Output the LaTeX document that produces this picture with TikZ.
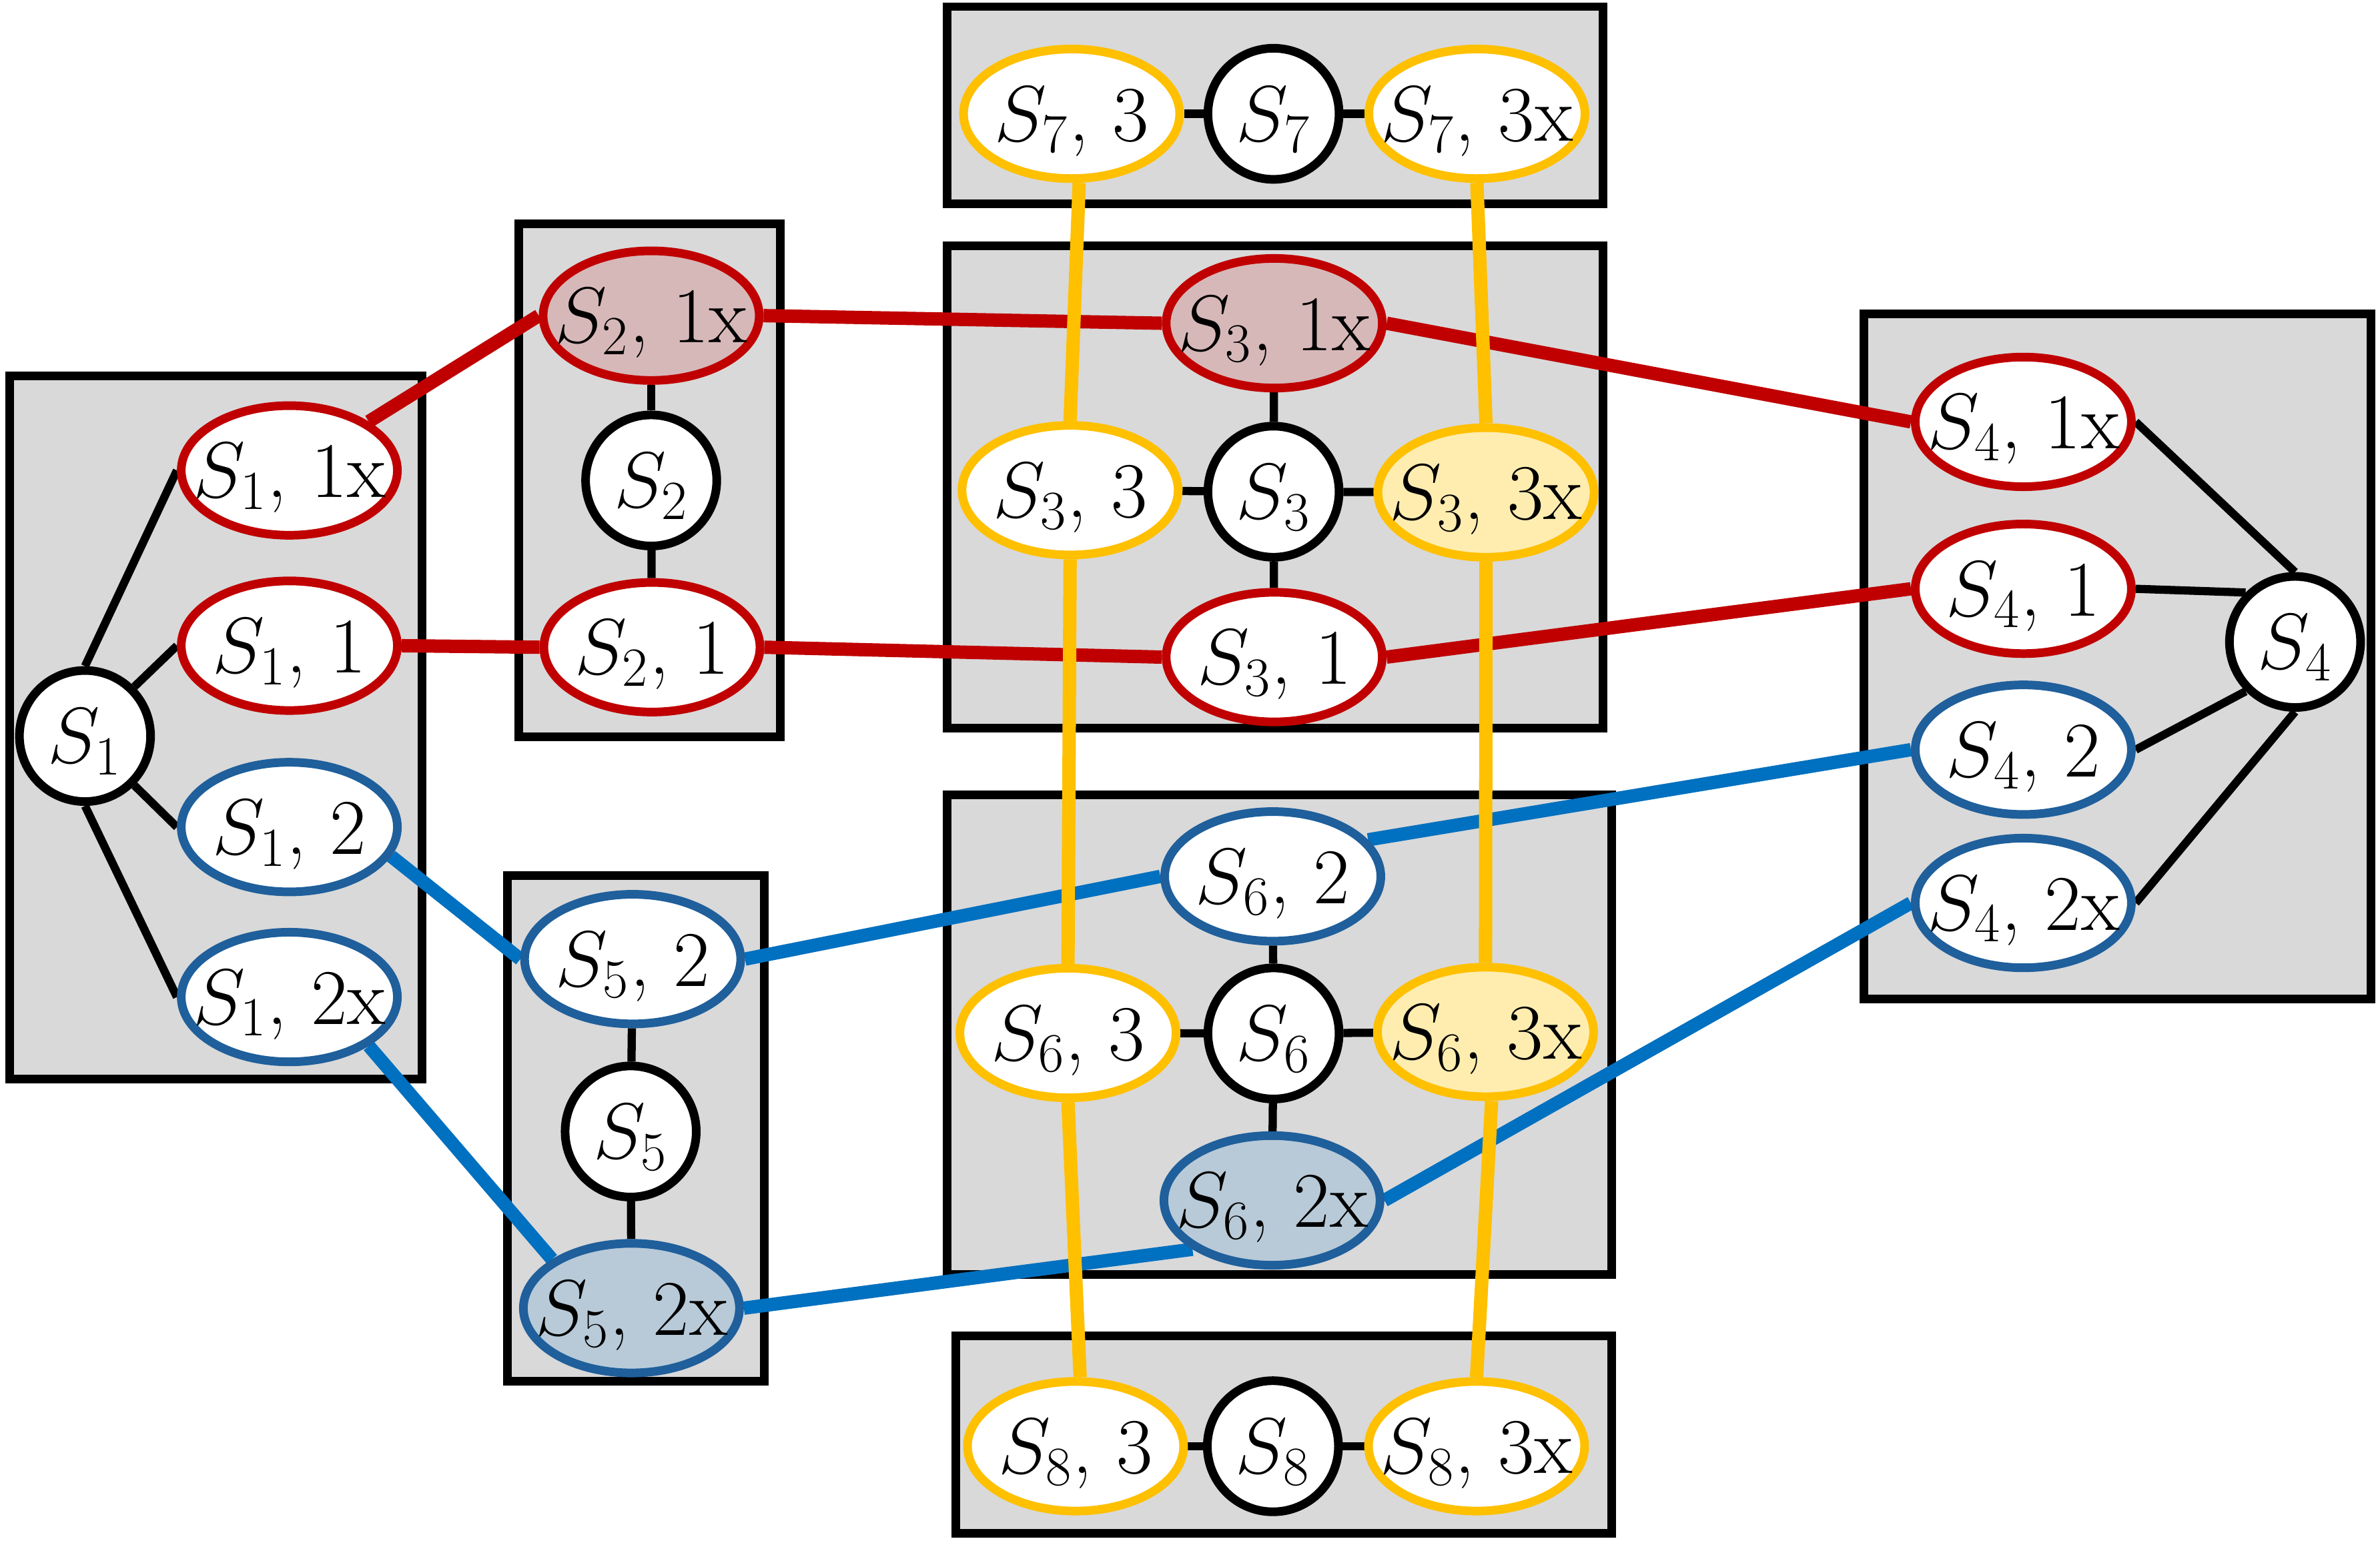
\RequirePackage{fix-cm}
\documentclass[tikz,border=0pt]{standalone}
\usetikzlibrary{shapes.geometric}
\definecolor{boxgray}{HTML}{D9D9D9}
\definecolor{myred}{HTML}{C00000}
\definecolor{lineblue}{HTML}{0070C0}
\definecolor{nodeblue}{HTML}{1F5F9B}
\definecolor{myyellow}{HTML}{FFC000}
\definecolor{pinkfill}{HTML}{D7B8B9}
\definecolor{bluefill}{HTML}{B8CAD8}
\definecolor{yellowfill}{HTML}{FFEDB0}
\newcommand{\ntxt}[1]{\makebox[0pt][c]{#1}}
\pgfdeclarelayer{bg}
\pgfdeclarelayer{lines}
\pgfsetlayers{bg,lines,main}
\begin{document}
\begin{tikzpicture}[x=0.5pt,y=-0.5pt,
  every node/.style={inner sep=0pt, font=\fontsize{26}{30}\selectfont, text height=17.8pt, text depth=0pt},
  grpbox/.style={draw=black, fill=boxgray, line width=2.85pt},
  ell/.style={ellipse, draw, line width=2.85pt, fill=white, minimum width=71.2pt, minimum height=42.7pt},
  rell/.style={ell, draw=myred},
  bell/.style={ell, draw=nodeblue},
  yell/.style={ell, draw=myyellow},
  circ/.style={circle, draw=black, line width=2.85pt, fill=white, minimum size=43.2pt},
  blackln/.style={draw=black, line width=2.7pt},
  redln/.style={draw=myred, line width=4.4pt},
  blueln/.style={draw=lineblue, line width=4.4pt},
  yelln/.style={draw=myyellow, line width=4.4pt}]
\useasboundingbox (0,0) rectangle (1568,1015.4);

% group boxes
\begin{pgfonlayer}{bg}
\fill[white] (0,0) rectangle (1568,1015.4);
\draw[grpbox] (6.25,247.9) rectangle (278.2,711.2);
\draw[grpbox] (341.9,147.5) rectangle (514.2,485.5);
\draw[grpbox] (334.4,576.9) rectangle (503.6,910);
\draw[grpbox] (623.9,4.4) rectangle (1056.2,134.2);
\draw[grpbox] (623.9,162) rectangle (1056.2,480);
\draw[grpbox] (623.9,523.9) rectangle (1061.7,839.7);
\draw[grpbox] (629.9,880.4) rectangle (1061.7,1010.4);
\draw[grpbox] (1227.9,206.9) rectangle (1562.1,658.1);
\end{pgfonlayer}

% nodes
\node[circ] (S1) at (56,485) {\ntxt{$S_{1}$}};
\node[rell] (S11x) at (190.6,310) {\ntxt{$S_{1}$, 1x}};
\node[rell] (S11) at (190.6,425.5) {\ntxt{$S_{1}$, 1}};
\node[bell] (S12) at (190.6,545) {\ntxt{$S_{1}$, 2}};
\node[bell] (S12x) at (190.6,657) {\ntxt{$S_{1}$, 2x}};

\node[rell, fill=pinkfill] (S21x) at (429,208) {\ntxt{$S_{2}$, 1x}};
\node[circ] (S2) at (429,316.6) {\ntxt{$S_{2}$}};
\node[rell] (S21) at (429.5,426.5) {\ntxt{$S_{2}$, 1}};

\node[bell] (S52) at (416.8,632) {\ntxt{$S_{5}$, 2}};
\node[circ] (S5) at (415.5,745.6) {\ntxt{$S_{5}$}};
\node[bell, fill=bluefill] (S52x) at (416,862) {\ntxt{$S_{5}$, 2x}};

\node[yell] (S73) at (706,75) {\ntxt{$S_{7}$, 3}};
\node[circ] (S7) at (839,75) {\ntxt{$S_{7}$}};
\node[yell] (S73x) at (973,75) {\ntxt{$S_{7}$, 3x}};

\node[rell, fill=pinkfill] (S31x) at (839.5,213) {\ntxt{$S_{3}$, 1x}};
\node[yell] (S33) at (705,323) {\ntxt{$S_{3}$, 3}};
\node[circ] (S3) at (839,324) {\ntxt{$S_{3}$}};
\node[yell, fill=yellowfill] (S33x) at (979,324.5) {\ntxt{$S_{3}$, 3x}};
\node[rell] (S31) at (839.5,433) {\ntxt{$S_{3}$, 1}};

\node[bell] (S62) at (838.5,577.5) {\ntxt{$S_{6}$, 2}};
\node[yell] (S63) at (703.6,680.7) {\ntxt{$S_{6}$, 3}};
\node[circ] (S6) at (839,681) {\ntxt{$S_{6}$}};
\node[yell, fill=yellowfill] (S63x) at (978.7,680) {\ntxt{$S_{6}$, 3x}};
\node[bell, fill=bluefill] (S62x) at (838,791) {\ntxt{$S_{6}$, 2x}};

\node[yell] (S83) at (708.6,953) {\ntxt{$S_{8}$, 3}};
\node[circ] (S8) at (838.6,953) {\ntxt{$S_{8}$}};
\node[yell] (S83x) at (972.8,953) {\ntxt{$S_{8}$, 3x}};

\node[rell] (S41x) at (1333,278) {\ntxt{$S_{4}$, 1x}};
\node[rell] (S41) at (1333,388) {\ntxt{$S_{4}$, 1}};
\node[bell] (S42) at (1333,494) {\ntxt{$S_{4}$, 2}};
\node[bell] (S42x) at (1333,595) {\ntxt{$S_{4}$, 2x}};
\node[circ] (S4) at (1512,423) {\ntxt{$S_{4}$}};

% connectors
\begin{pgfonlayer}{lines}
% black, inside groups
\draw[blackln] (S1.north) -- (S11x.west);
\draw[blackln] (S1.north east) -- (S11.west);
\draw[blackln] (S1.south east) -- (S12.west);
\draw[blackln] (S1.south) -- (S12x.west);
\draw[blackln] (S21x) -- (S2);
\draw[blackln] (S2) -- (S21);
\draw[blackln] (S52) -- (S5);
\draw[blackln] (S5) -- (S52x);
\draw[blackln] (S73) -- (S7);
\draw[blackln] (S7) -- (S73x);
\draw[blackln] (S31x) -- (S3);
\draw[blackln] (S3) -- (S31);
\draw[blackln] (S33) -- (S3);
\draw[blackln] (S3) -- (S33x);
\draw[blackln] (S62) -- (S6);
\draw[blackln] (S6) -- (S62x);
\draw[blackln] (S63) -- (S6);
\draw[blackln] (S6) -- (S63x);
\draw[blackln] (S83) -- (S8);
\draw[blackln] (S8) -- (S83x);
\draw[blackln] (S41x.east) -- (S4.north);
\draw[blackln] (S41.east) -- (S4.north west);
\draw[blackln] (S42.east) -- (S4.south west);
\draw[blackln] (S42x.east) -- (S4.south);
% red
\draw[redln] (S11x.north east) -- (S21x.west);
\draw[redln] (S11.east) -- (S21.west);
\draw[redln] (S21x.east) -- (S31x.west);
\draw[redln] (S21.east) -- (S31.west);
\draw[redln] (S31x.east) -- (S41x.west);
\draw[redln] (S31.east) -- (S41.west);
% blue
\draw[blueln] (S12.-16) -- (S52.west);
\draw[blueln] (S12x.south east) -- (S52x.north west);
\draw[blueln] (S52.east) -- (S62.west);
\draw[blueln] (S62.21) -- (S42.west);
\draw[blueln] (S52x.east) -- (S62x.south west);
\draw[blueln] (S62x.east) -- (S42x.west);
% yellow
\draw[yelln] ([xshift=2.5pt]S73.south) -- (S33.north);
\draw[yelln] (S33.south) -- (S63.north);
\draw[yelln] (S63.south) -- ([xshift=1.5pt]S83.north);
\draw[yelln] (S73x.south) -- (S33x.north);
\draw[yelln] (S33x.south) -- (S63x.north);
\draw[yelln] ([xshift=2pt]S63x.south) -- (S83x.north);
\end{pgfonlayer}
\end{tikzpicture}
\end{document}
